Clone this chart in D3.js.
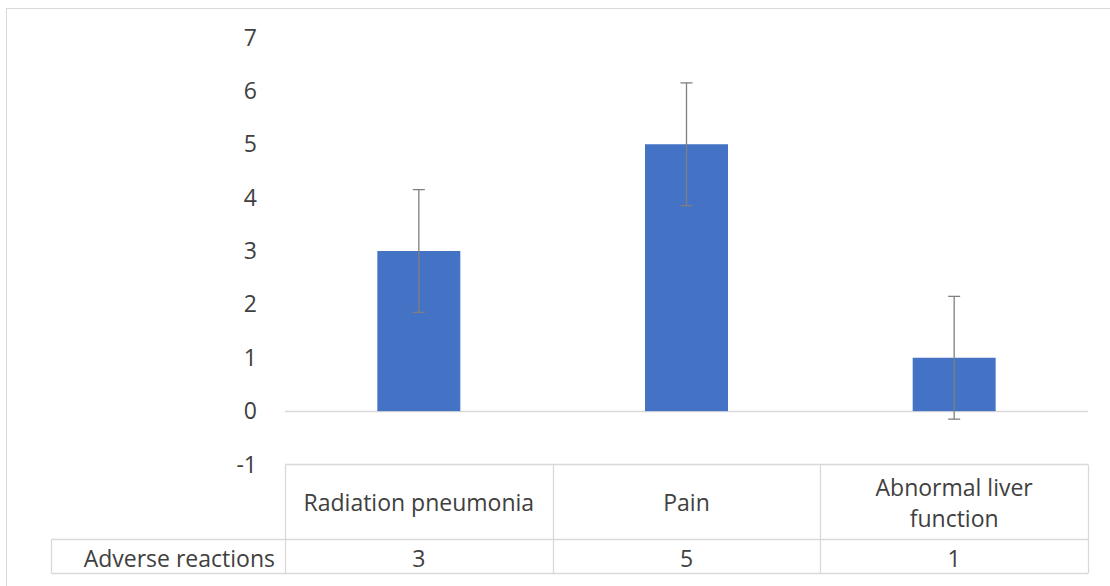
<!DOCTYPE html>
<html><head><meta charset="utf-8">
<script src="https://cdn.jsdelivr.net/npm/d3@7"></script>
<style>body{margin:0;background:#fff}svg{display:block}</style>
</head><body>
<script>
const categories = ["Radiation pneumonia", "Pain", "Abnormal liver function"];
const categoryLines = [["Radiation pneumonia"], ["Pain"], ["Abnormal liver", "function"]];
const seriesName = "Adverse reactions";
const values = [3, 5, 1];
const errors = [1.15, 1.15, 1.15];
const yTicks = [-1, 0, 1, 2, 3, 4, 5, 6, 7];

const W = 1110, H = 586;
const font = "'Open Sans', 'Liberation Sans', sans-serif";
const fs = 23;
const textColor = "#404040";
const lineColor = "#d9d9d9";
const svg = d3.select("body").append("svg").attr("width", W).attr("height", H);

svg.append("rect").attr("x", 6.5).attr("y", 8.5).attr("width", W + 20).attr("height", H + 20)
  .attr("fill", "#fff").attr("stroke", lineColor).attr("stroke-width", 1);

const left = 285, right = 1088;
const y = d3.scaleLinear().domain([-1, 7]).range([464.5, 37.5]);
const x = d3.scaleBand().domain(categories).range([left, right]).paddingInner(0.69).paddingOuter(0.345);

// tick labels
svg.append("g").selectAll("text").data(yTicks).join("text")
  .attr("x", 257).attr("y", d => y(d)).attr("dy", "0.35em")
  .attr("text-anchor", "end").attr("font-family", font).attr("font-size", fs)
  .attr("fill", textColor).text(d => d);

// zero line
svg.append("line").attr("x1", left).attr("x2", right)
  .attr("y1", Math.round(y(0)) + 0.5).attr("y2", Math.round(y(0)) + 0.5)
  .attr("stroke", lineColor).attr("stroke-width", 1.3);

// bars
svg.append("g").selectAll("rect").data(values).join("rect")
  .attr("x", (d, i) => x(categories[i])).attr("width", x.bandwidth())
  .attr("y", d => y(d)).attr("height", d => y(0) - y(d))
  .attr("fill", "#4472C4");

// error bars
const eg = svg.append("g").attr("stroke", "#7f7f7f").attr("stroke-width", 1.3);
values.forEach((v, i) => {
  const cx = x(categories[i]) + x.bandwidth() / 2;
  const t = y(v + errors[i]), b = y(v - errors[i]);
  eg.append("line").attr("x1", cx).attr("x2", cx).attr("y1", t).attr("y2", b);
  eg.append("line").attr("x1", cx - 6).attr("x2", cx + 6).attr("y1", t).attr("y2", t);
  eg.append("line").attr("x1", cx - 6).attr("x2", cx + 6).attr("y1", b).attr("y2", b);
});

// data table
const tTop = 464.5, tMid = 539.5, tBot = 573.5, hdrLeft = 51.5;
const tg = svg.append("g").attr("stroke", lineColor).attr("stroke-width", 1.3).attr("fill", "none");
tg.append("line").attr("x1", left).attr("x2", right).attr("y1", tTop).attr("y2", tTop);
tg.append("line").attr("x1", hdrLeft).attr("x2", right).attr("y1", tMid).attr("y2", tMid);
tg.append("line").attr("x1", hdrLeft).attr("x2", right).attr("y1", tBot).attr("y2", tBot);
tg.append("line").attr("x1", hdrLeft).attr("x2", hdrLeft).attr("y1", tMid).attr("y2", tBot);
const step = (right - left) / categories.length;
d3.range(categories.length + 1).forEach(i => {
  const xx = Math.round(left + i * step) + 0.5;
  tg.append("line").attr("x1", xx).attr("x2", xx).attr("y1", tTop).attr("y2", tBot);
});

// category labels
categories.forEach((c, i) => {
  const cx = left + (i + 0.5) * step;
  const lines = categoryLines[i];
  const lh = 31;
  const midY = (tTop + tMid) / 2 + 1;
  lines.forEach((ln, j) => {
    svg.append("text").attr("x", cx).attr("y", midY + (j - (lines.length - 1) / 2) * lh)
      .attr("dy", "0.35em").attr("text-anchor", "middle")
      .attr("font-family", font).attr("font-size", fs).attr("fill", textColor).text(ln);
  });
  svg.append("text").attr("x", cx).attr("y", (tMid + tBot) / 2 + 2).attr("dy", "0.35em")
    .attr("text-anchor", "middle").attr("font-family", font).attr("font-size", fs)
    .attr("fill", textColor).text(values[i]);
});
svg.append("text").attr("x", 275).attr("y", (tMid + tBot) / 2 + 2).attr("dy", "0.35em")
  .attr("text-anchor", "end").attr("font-family", font).attr("font-size", fs)
  .attr("fill", textColor).text(seriesName);
</script>
</body></html>
